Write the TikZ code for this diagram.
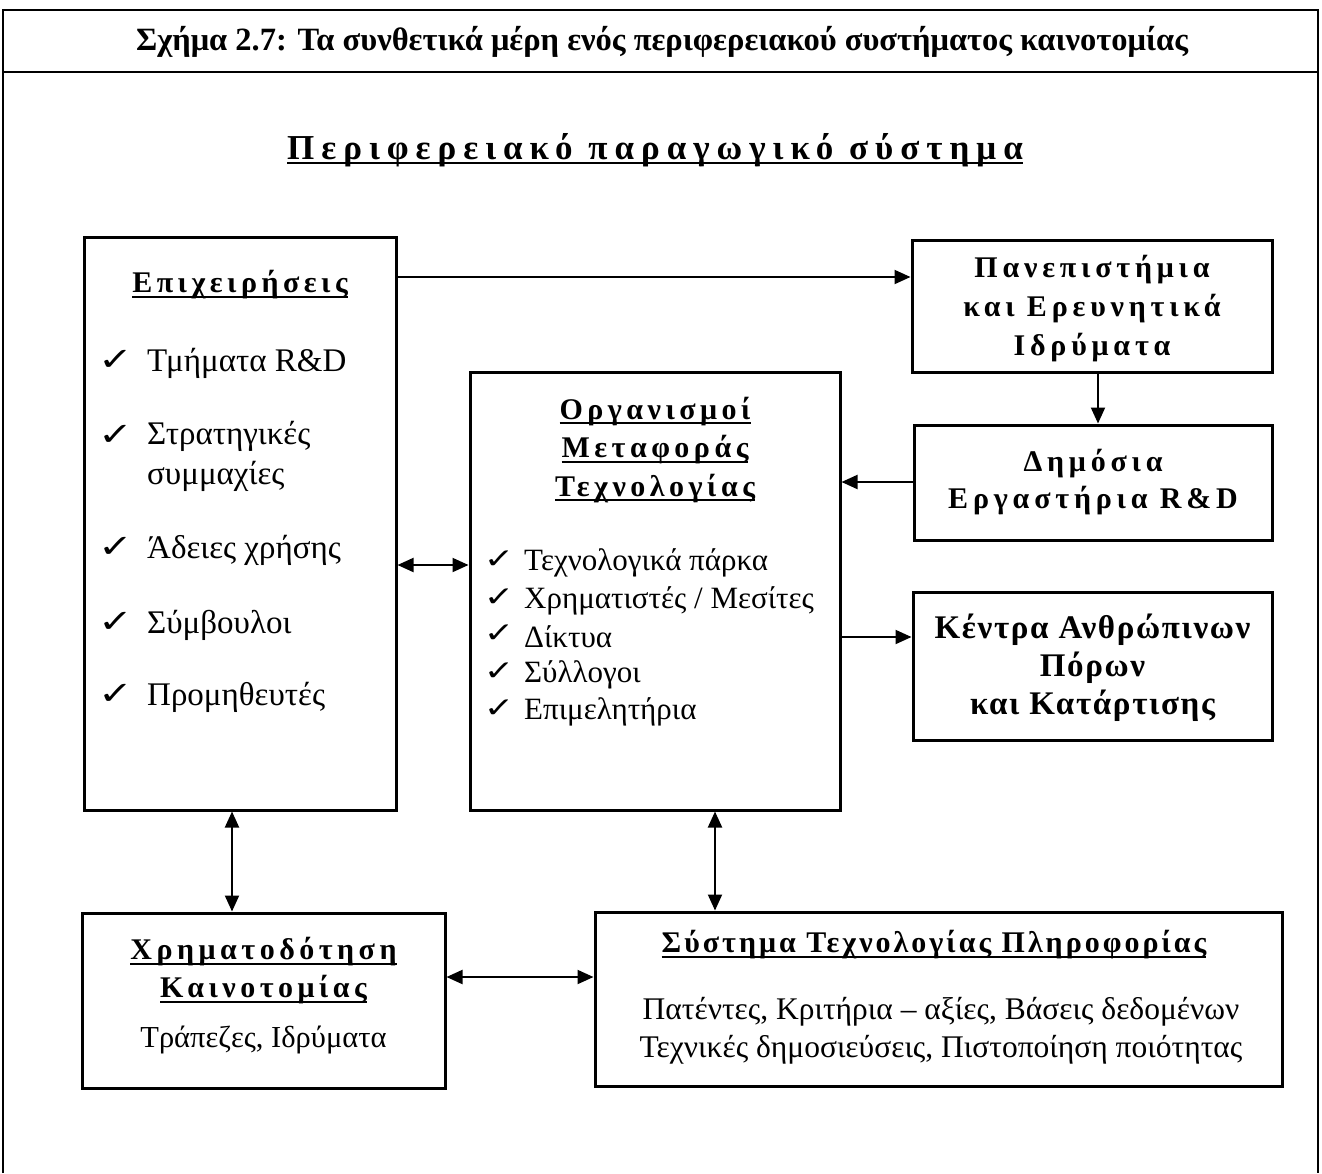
\documentclass[tikz,border=0pt]{standalone}
\usepackage{fontspec}
\setmainfont{Liberation Serif}
\newfontfamily\chk{DejaVu Sans}
\newfontfamily\spacedH[LetterSpace=20]{Liberation Serif}
\newfontfamily\spacedA[LetterSpace=15]{Liberation Serif}
\newfontfamily\spacedB[LetterSpace=16]{Liberation Serif}
\newfontfamily\spacedC[LetterSpace=5]{Liberation Serif}
\newfontfamily\spacedD[LetterSpace=10]{Liberation Serif}
\usetikzlibrary{arrows.meta}
\newcommand\myul[1]{\leavevmode\setbox0=\hbox{#1}\rlap{\rule[-5pt]{\wd0}{2pt}}\box0}
\newcommand\fs[2]{\fontsize{#1}{#2}\selectfont}
\newcommand\ckA{\scalebox{1.3}[1]{✓}}
\tikzset{
  box/.style={draw, line width=3pt, inner sep=0pt, fill=white},
  tip/.tip={Triangle[length=16pt,width=14pt]},
  arr/.style={line width=2pt, -tip},
  darr/.style={line width=2pt, tip-tip},
  txt/.style={inner sep=0pt, align=center},
  ckbig/.style={inner sep=0pt, font=\chk\fs{32}{36}},
  cksm/.style={inner sep=0pt, font=\chk\fs{28}{32}},
}
\begin{document}
\begin{tikzpicture}[x=1pt,y=-1pt]
\useasboundingbox (0,0) rectangle (1322,1173);
% outer frame
\draw[line width=2.5pt] (3,1173) -- (3,10) -- (1318,10) -- (1318,1173);
\draw[line width=2.5pt] (3,72) -- (1318,72);
\node[txt, font=\bfseries\fs{32.5}{36}] (title) at (662,42) {Σχήμα 2.7: Τα συνθετικά μέρη ενός περιφερειακού συστήματος καινοτομίας};
\node[txt, font=\spacedH\bfseries\fs{35}{38}] (head) at (655,150) {\myul{Περιφερειακό παραγωγικό σύστημα}};

% boxes
\node[box, minimum width=312, minimum height=573] (epi) at (240,523.5) {};
\node[box, minimum width=370, minimum height=438] (org) at (655,591) {};
\node[box, minimum width=360, minimum height=132] (pan) at (1092,306) {};
\node[box, minimum width=358, minimum height=115] (dim) at (1093,482.5) {};
\node[box, minimum width=359, minimum height=148] (ken) at (1092.5,666) {};
\node[box, minimum width=363, minimum height=175] (xri) at (263.5,1000.5) {};
\node[box, minimum width=687, minimum height=174] (sys) at (938.5,999) {};

% Epixeiriseis
\node[txt, font=\spacedA\bfseries\fs{30}{32}] (epih) at (240,285) {\myul{Επιχειρήσεις}};
\node[ckbig] (ec1) at (116,360) {\ckA};
\node[txt, anchor=west, font=\fs{33}{40}] (et1) at (147,363) {Τμήματα R\&D};
\node[ckbig] (ec2) at (116,435) {\ckA};
\node[txt, anchor=north west, align=left, font=\fs{33}{40}] (et2) at (147,421) {Στρατηγικές\\συμμαχίες};
\node[ckbig] (ec3) at (116,547) {\ckA};
\node[txt, anchor=west, font=\fs{33}{40}] (et3) at (147,550) {Άδειες χρήσης};
\node[ckbig] (ec4) at (116,622) {\ckA};
\node[txt, anchor=west, font=\fs{33}{40}] (et4) at (147,625) {Σύμβουλοι};
\node[ckbig] (ec5) at (116,694) {\ckA};
\node[txt, anchor=west, font=\fs{33}{40}] (et5) at (147,697) {Προμηθευτές};

% Organismoi
\node[txt, font=\spacedA\bfseries\fs{30}{38.5}] (orgh) at (655,450) {\myul{Οργανισμοί}\\\myul{Μεταφοράς}\\\myul{Τεχνολογίας}};
\node[cksm] (oc1) at (499,560) {\ckA};
\node[txt, anchor=west, font=\fs{31}{34}] (ot1) at (524,563) {Τεχνολογικά πάρκα};
\node[cksm] (oc2) at (499,598) {\ckA};
\node[txt, anchor=west, font=\fs{31}{34}] (ot2) at (524,601) {Χρηματιστές / Μεσίτες};
\node[cksm] (oc3) at (499,634) {\ckA};
\node[txt, anchor=west, font=\fs{31}{34}] (ot3) at (524,637) {Δίκτυα};
\node[cksm] (oc4) at (499,672) {\ckA};
\node[txt, anchor=west, font=\fs{31}{34}] (ot4) at (524,675) {Σύλλογοι};
\node[cksm] (oc5) at (499,709) {\ckA};
\node[txt, anchor=west, font=\fs{31}{34}] (ot5) at (524,712) {Επιμελητήρια};

% right boxes text
\node[txt, font=\spacedB\bfseries\fs{30}{39}] (pant) at (1092,309) {Πανεπιστήμια\\και Ερευνητικά\\Ιδρύματα};
\node[txt, font=\spacedB\bfseries\fs{30}{37}] (dimt) at (1093,482) {Δημόσια\\Εργαστήρια R\&D};
\node[txt, font=\spacedC\bfseries\fs{33}{38}] (kent) at (1092.5,668) {Κέντρα Ανθρώπινων\\Πόρων\\και Κατάρτισης};

% Xrimatodotisi
\node[txt, font=\spacedA\bfseries\fs{30}{38}] (xrih) at (263.5,971) {\myul{Χρηματοδότηση}\\\myul{Καινοτομίας}};
\node[txt, font=\fs{30.5}{34}] (xrit) at (263.5,1040) {Τράπεζες, Ιδρύματα};

% Systima
\node[txt, font=\spacedD\bfseries\fs{30}{34}] (sysh) at (934,945) {\myul{Σύστημα Τεχνολογίας Πληροφορίας}};
\node[txt, font=\fs{31.5}{38}] (syst) at (941,1031) {Πατέντες, Κριτήρια – αξίες, Βάσεις δεδομένων\\Τεχνικές δημοσιεύσεις, Πιστοποίηση ποιότητας};

% connectors
\coordinate (y1) at (0,277);
\coordinate (x2) at (1098,0);
\coordinate (y3) at (0,482);
\coordinate (y4) at (0,637);
\coordinate (y5) at (0,565);
\coordinate (x6) at (232,0);
\coordinate (x7) at (715,0);
\coordinate (y8) at (0,977);
\draw[arr] (epi.east |- y1) -- (pan.west |- y1);
\draw[arr] (pan.south -| x2) -- (dim.north -| x2);
\draw[arr] (dim.west |- y3) -- (org.east |- y3);
\draw[arr] (org.east |- y4) -- (ken.west |- y4);
\draw[darr] (epi.east |- y5) -- (org.west |- y5);
\draw[darr] (epi.south -| x6) -- (xri.north -| x6);
\draw[darr] (org.south -| x7) -- (sys.north -| x7);
\draw[darr] (xri.east |- y8) -- (sys.west |- y8);
\end{tikzpicture}
\end{document}
